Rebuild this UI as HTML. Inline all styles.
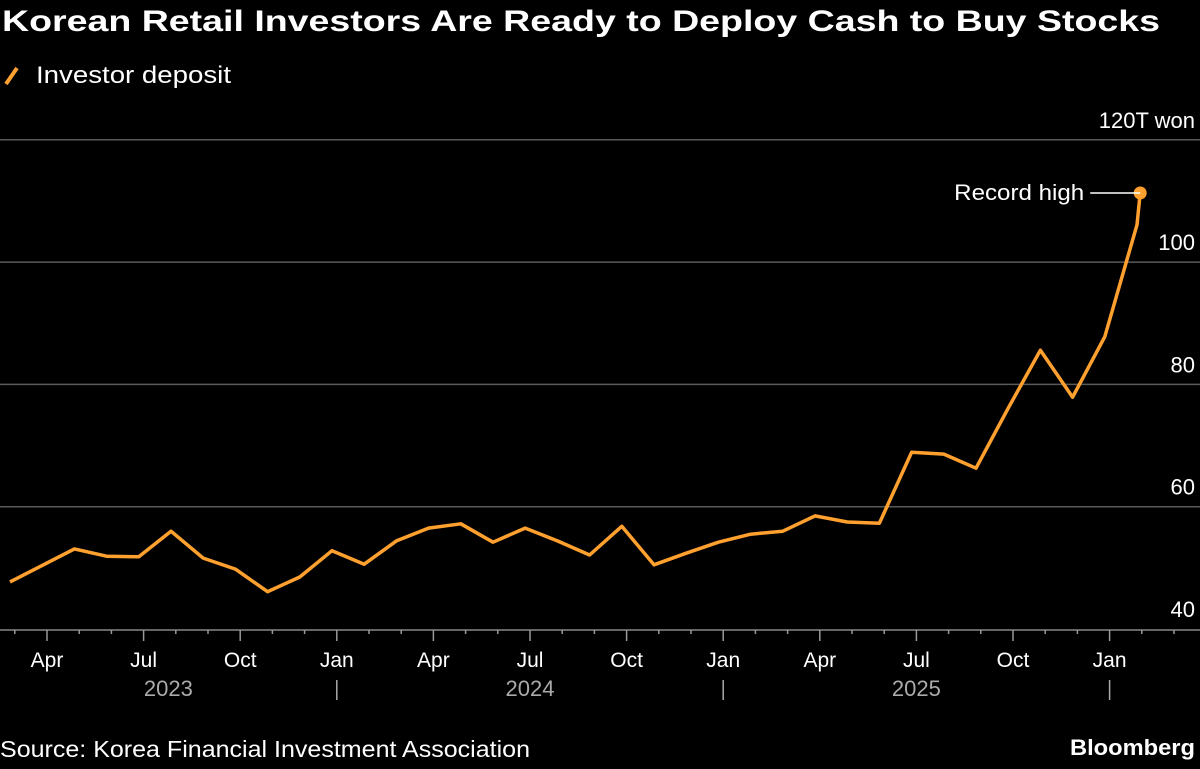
<!DOCTYPE html>
<html><head><meta charset="utf-8"><style>
html,body{margin:0;padding:0;background:#000;}
body{width:1200px;height:764px;overflow:hidden;font-family:"Liberation Sans",sans-serif;}
</style></head><body>
<svg id="chart" width="1200" height="764" xmlns="http://www.w3.org/2000/svg" font-family="Liberation Sans, DejaVu Sans, sans-serif">
<rect width="1200" height="764" fill="#000"/>
<text x="2" y="31" fill="#fff" font-size="30" font-weight="bold" textLength="1158" lengthAdjust="spacingAndGlyphs">Korean Retail Investors Are Ready to Deploy Cash to Buy Stocks</text>
<g>
<line x1="6" y1="84" x2="17" y2="68" stroke="#ffa02f" stroke-width="4"/>
<text x="36" y="83" fill="#fff" font-size="24" textLength="195" lengthAdjust="spacingAndGlyphs">Investor deposit</text>
</g>
<g id="grid"></g><g id="xaxis"></g><g id="series"></g>
<text x="0" y="757" fill="#fff" font-size="23" textLength="530" lengthAdjust="spacingAndGlyphs">Source: Korea Financial Investment Association</text>
<text x="1195" y="755" fill="#fff" font-size="22" font-weight="bold" text-anchor="end" textLength="125" lengthAdjust="spacingAndGlyphs">Bloomberg</text>
</svg>
<script>
const yTicks=[40,60,80,100,120];
const yTickLabels=["40","60","80","100","120T won"];
const monthLabels=["Apr","Jul","Oct","Jan","Apr","Jul","Oct","Jan","Apr","Jul","Oct","Jan"];
const yearLabels=["2023","2024","2025"];
const values=[47.7,50.4,53.1,51.9,51.8,56.0,51.6,49.8,46.1,48.5,52.8,50.6,54.4,56.5,57.2,54.2,56.5,54.4,52.1,56.8,50.5,52.4,54.2,55.5,56.0,58.5,57.5,57.3,68.9,68.6,66.3,76.1,85.6,77.9,87.8,106.1];
const recordValue=111.3;
const recordMonth=33.95;
const firstMonth=-1.15;

const svgNS="http://www.w3.org/2000/svg";
const X=m=>47+32.2*m;
const Y=v=>629-(v-40)*6.115;
function el(tag,attrs,parent){const e=document.createElementNS(svgNS,tag);for(const k in attrs)e.setAttribute(k,attrs[k]);parent.appendChild(e);return e;}
const grid=document.getElementById('grid'),xa=document.getElementById('xaxis'),ser=document.getElementById('series');
yTicks.forEach((t,i)=>{
  if(i>0){const l=el('line',{x1:0,x2:1200,y1:Y(t),y2:Y(t),stroke:'#5a5a5a','stroke-width':1.5},grid);
  
  }
  const tx=el('text',{x:1195,y:Y(t)-12,fill:'#fff','font-size':22,'text-anchor':'end'},grid);
  tx.textContent=yTickLabels[i];
  
  
});
const ax=el('line',{x1:0,x2:1200,y1:630,y2:630,stroke:'#888','stroke-width':1.5},xa);


for(let m=-1;m<=35;m++){
  const major=((m%3)+3)%3===0;
  const t=el('line',{x1:X(m),x2:X(m),y1:630,y2:major?641:634,stroke:'#999','stroke-width':1.5},xa);
  
  
}
monthLabels.forEach((lab,i)=>{
  const t=el('text',{x:X(i*3),y:667,fill:'#fff','font-size':21,'text-anchor':'middle'},xa);
  t.textContent=lab;
  
  
});
yearLabels.forEach((y,i)=>{
  const start=Math.max(0,X(-3+12*i)), end=X(9+12*i);
  const t=el('text',{x:(start+end)/2,y:696,fill:'#aaa','font-size':22,'text-anchor':'middle'},xa);
  t.textContent=y;
  
  
  const s=el('line',{x1:end,x2:end,y1:680,y2:700,stroke:'#aaa','stroke-width':1.5},xa);
  
  
});
let d=values.map((v,i)=>(i?'L':'M')+X(firstMonth+i).toFixed(1)+','+Y(v).toFixed(1)).join(' ');
d+=' L'+X(recordMonth).toFixed(1)+','+Y(recordValue).toFixed(1);
const p=el('path',{d:d,fill:'none',stroke:'#ffa02f','stroke-width':3.5,'stroke-linejoin':'round'},ser);


const rx=X(recordMonth),ry=Y(recordValue);
const c=el('circle',{cx:rx,cy:ry,r:6.5,fill:'#ffa02f'},ser);


const al=el('line',{x1:rx-50,x2:rx,y1:ry,y2:ry,stroke:'#fff','stroke-width':1.5},ser);


const at=el('text',{x:rx-56,y:ry+7,fill:'#fff','font-size':22,'text-anchor':'end',textLength:130,lengthAdjust:'spacingAndGlyphs'},ser);
at.textContent='Record high';


</script>
</body></html>
